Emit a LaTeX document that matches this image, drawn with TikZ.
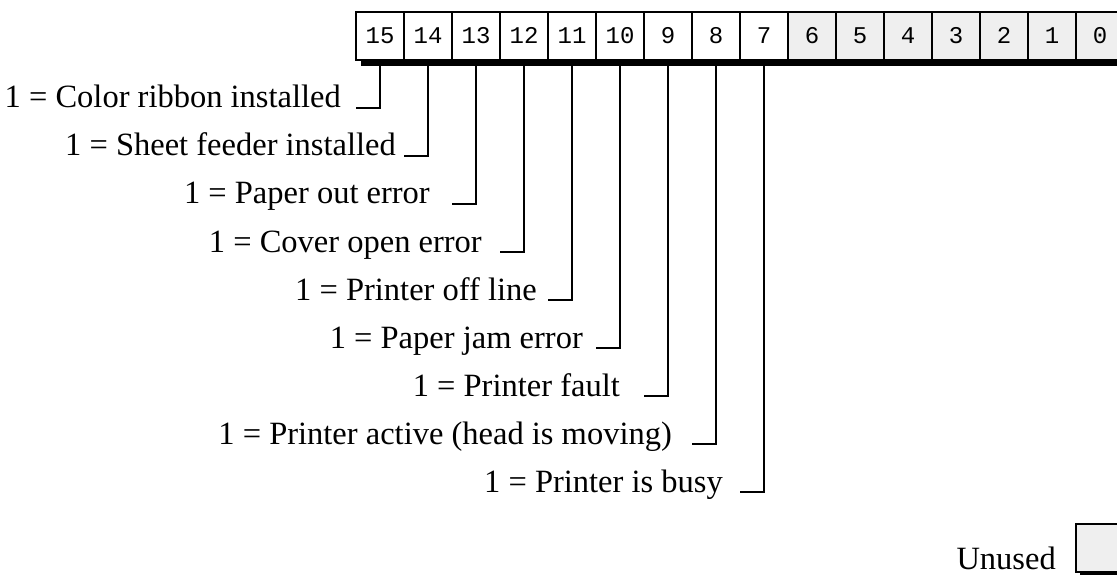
\documentclass[tikz,border=0pt]{standalone}
\usepackage{fontspec}
\setmainfont{Liberation Serif}
\newfontfamily\bitfont{Liberation Mono}
\usepackage{tikz}
\usetikzlibrary{positioning}
\definecolor{unusedgray}{HTML}{EFEFEF}

\begin{document}
\begin{tikzpicture}[x=1pt, y=-1pt]
      \tikzstyle{cell} = [rectangle, draw, line width=1.8pt, minimum width=48pt,
                          minimum height=48pt, inner sep=0pt, outer sep=0pt,
                          text height=15pt, text depth=0pt,
                          font=\bitfont\fontsize{24}{24}\selectfont]
      \tikzstyle{unused} = [cell, fill=unusedgray]
      \tikzstyle{bitlabel} = [anchor=base east, inner sep=0pt,
                              font=\fontsize{32.5}{36}\selectfont]
      \tikzstyle{wire} = [draw, line width=2pt]
      \useasboundingbox (0,0) rectangle (1117,575);
      % shadow under the register
      \fill (361,18) rectangle (1130,66);
      \foreach \b in {15,...,7}
        \node[cell, fill=white] (c\b) at ({380+48*(15-\b)},36) {\b};
      \foreach \b in {6,...,0}
        \node[unused] (c\b) at ({380+48*(15-\b)},36) {\b};
      % flag bits
      \foreach \b/\x/\txt in {15/341/{Color ribbon installed},
                              14/396/{Sheet feeder installed},
                              13/430/{Paper out error},
                              12/482/{Cover open error},
                              11/537/{Printer off line},
                              10/583/{Paper jam error},
                              9/620/{Printer fault},
                              8/672/{Printer active (head is moving)},
                              7/723/{Printer is busy}} {
        \node[bitlabel] (t\b) at (\x,{108+48*(15-\b)}) {1 = \txt};
        \coordinate (k\b) at ({356+48*(15-\b)},{108+48*(15-\b)});
        \path[wire] (c\b.south) |- (k\b);
      }
      % key
      \node[bitlabel] (keytxt) at (1056,569) {Unused};
      \fill (1080,528) rectangle (1130,576);
      \node[unused, anchor=north west] (key) at (1076,524) {};
    \end{tikzpicture}
\end{document}
